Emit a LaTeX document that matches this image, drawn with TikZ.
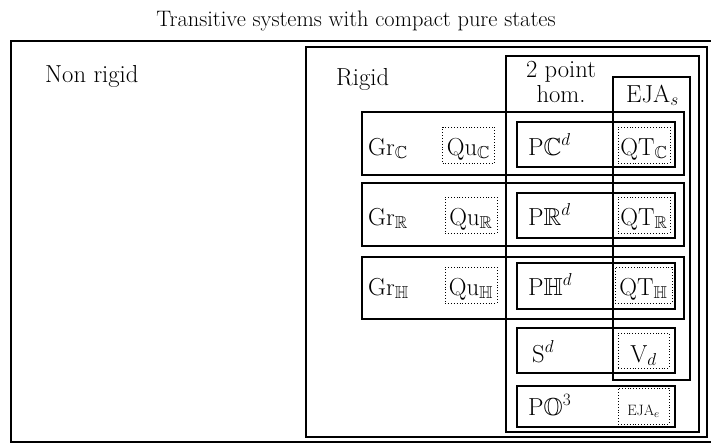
\documentclass[tikz,border=0pt]{standalone}
\usepackage{amssymb}
\begin{document}
\begin{tikzpicture}[x=1pt,y=-1pt,
  lbl/.style={inner sep=0pt,font=\fontsize{24.6}{25}\selectfont},
  ttl/.style={inner sep=0pt,font=\fontsize{22.4}{26}\selectfont},
  region/.style={draw,line width=1.25pt},
  dotbox/.style={draw,dotted,line width=0.9pt,inner sep=0pt,text height=28pt,text depth=8pt,minimum width=52pt,align=center,font=\fontsize{24.6}{25}\selectfont},
  smalldot/.style={dotbox,font=\fontsize{15}{16}\selectfont,text height=27pt,text depth=9pt}]
\useasboundingbox (0,0) rectangle (711,442);
\clip (0,0) rectangle (711,442);
% containers
\draw[line width=2.6pt] (11,41) rectangle (730,441.8);
\draw[line width=1.7pt] (306,47) rectangle (707,437);
\draw[region] (506,56) rectangle (699,432);
\draw[region] (613,77) rectangle (690,380);
\draw[region] (362,112) rectangle (684,175);
\draw[region] (362,183) rectangle (684,246);
\draw[region] (362,257) rectangle (684,319);
\draw[region] (517,122) rectangle (675,167);
\draw[region] (517,193) rectangle (675,238);
\draw[region] (517,263) rectangle (675,309);
\draw[region] (517,328) rectangle (675,373);
\draw[region] (517,386) rectangle (675,427);
% labels
\node[ttl,anchor=base] (title) at (356,26) {Transitive systems with compact pure states};
\node[lbl,anchor=base west] (nonrigid) at (45,82) {Non rigid};
\node[lbl,anchor=base west] (rigid) at (336,85) {Rigid};
\node[lbl,anchor=base] (twopoint) at (561,77) {2 point};
\node[lbl,anchor=base] (hom) at (561,102) {hom.};
\node[lbl,anchor=base west] (ejas) at (626,102) {EJA$_s$};
% row C
\node[lbl,anchor=base west] (grc) at (368,155) {Gr$_{\mathbb{C}}$};
\node[dotbox,anchor=base] (quc) at (468.5,155) {Qu$_{\mathbb{C}}$};
\node[lbl,anchor=base west] (pc) at (528,155) {P$\mathbb{C}^d$};
\node[dotbox,anchor=base] (qtc) at (644,155) {QT$_{\mathbb{C}}$};
% row R
\node[lbl,anchor=base west] (grr) at (368,225) {Gr$_{\mathbb{R}}$};
\node[dotbox,anchor=base] (qur) at (471,225) {Qu$_{\mathbb{R}}$};
\node[lbl,anchor=base west] (pr) at (528,225) {P$\mathbb{R}^d$};
\node[dotbox,anchor=base] (qtr) at (644,225) {QT$_{\mathbb{R}}$};
% row H
\node[lbl,anchor=base west] (grh) at (368,295) {Gr$_{\mathbb{H}}$};
\node[dotbox,anchor=base] (quh) at (471,295) {Qu$_{\mathbb{H}}$};
\node[lbl,anchor=base west] (ph) at (528,295) {P$\mathbb{H}^d$};
\node[dotbox,anchor=base,minimum width=57pt] (qth) at (643.5,295) {QT$_{\mathbb{H}}$};
% sphere
\node[lbl,anchor=base west] (sd) at (532,362) {S$^d$};
\node[dotbox,anchor=base,text height=29pt,text depth=6pt,minimum width=51pt] (vd) at (643.5,362) {V$_d$};
% octonions
\node[lbl,anchor=base west] (po) at (528,415) {P$\mathbb{O}^3$};
\node[smalldot,anchor=base,minimum width=51pt] (ejae) at (643.5,415) {EJA$_e$};
\end{tikzpicture}
\end{document}
